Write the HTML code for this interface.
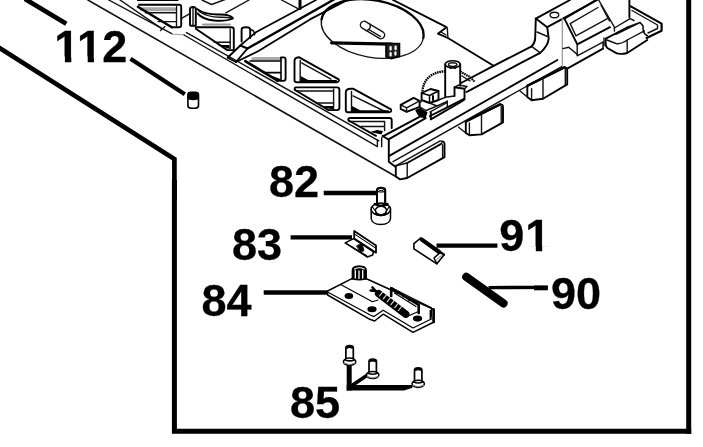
<!DOCTYPE html>
<html><head><meta charset="utf-8">
<style>
html,body{margin:0;padding:0;background:#fff;}
body{width:703px;height:447px;overflow:hidden;position:relative;}
svg{position:absolute;left:0;top:0;display:block;filter:grayscale(1);}
text{font-family:"Liberation Sans",sans-serif;font-weight:bold;font-size:45px;fill:#000;stroke:#000;stroke-width:0.3px;}
.k{stroke:#000;fill:none;stroke-linecap:butt;stroke-linejoin:miter;}
.t{stroke:#111;fill:none;stroke-width:1.4;stroke-linecap:round;stroke-linejoin:round;}
.m{stroke:#000;fill:none;stroke-width:1.9;stroke-linecap:round;stroke-linejoin:round;}
</style></head><body>
<svg width="703" height="447" viewBox="0 0 703 447">
<rect width="703" height="447" fill="#fff"/>
<!-- BORDER -->
<g class="k" stroke-width="4.7">
<path d="M25 -1 L66.3 23.8"/>
<path d="M-2 47 L174.4 159 L174.4 200" stroke-linejoin="miter"/>
<path d="M174.4 180 V431.3 H691.2" stroke-width="5"/>
<path d="M688.7 -2 V433.8" stroke-width="5"/>
</g>
<!-- LEADERS -->
<g class="k" stroke-width="4.3">
<path d="M130.5 58.8 L184.8 94.2"/>
<path d="M323.7 193 L377 193"/>
<path d="M290.6 237.4 L352 237.4"/>
<path d="M263.7 292.5 L328.5 292.5"/>
<path d="M436.5 245.6 L497.4 245.6"/>
<path d="M488.5 287.6 L547.6 287.4" stroke-width="3.4"/>
<path d="M534 287.9 H547.8" stroke-width="4.8"/>
<path d="M349.2 365 V390.5" stroke-width="5"/>
<path d="M346.7 384.9 H412.5 V387.8 L404 390.5 H346.7 Z" fill="#000" stroke="none"/>
<path d="M350.5 386.5 L368.6 374.3" stroke-width="3.6"/>
</g>
<path class="k" d="M466.3 276.8 L503.5 303.3" stroke-width="8.2" style="stroke-linecap:round"/>
<!-- LABELS -->
<g id="labels">
<text x="54.3 77.1 102.2" y="61.7">112</text>
<text x="269" y="196.5">82</text>
<text x="232" y="260">83</text>
<text x="201.5" y="315.7">84</text>
<text x="290" y="418">85</text>
<text x="499.2 525.2" y="251.2">91</text>
<text x="551" y="309">90</text>
<g fill="#fff" stroke="none">
<rect x="56" y="56.6" width="8.9" height="7"/><rect x="71.3" y="56.6" width="16.4" height="7"/><rect x="93.9" y="56.6" width="8.4" height="7"/>
<rect x="527" y="246.1" width="8.8" height="7"/><rect x="542.2" y="246.1" width="8.5" height="7"/>
</g>
</g>
<!-- TRAY -->
<g id="tray" class="t">
<!-- left edge band -->
<path d="M87.9 0 L395.8 176.5" stroke-width="1.6"/>
<path d="M108.7 0 L171.7 33.7"/>
<path d="M120 0 L161.7 28.7 M160.5 30.5 L165 26.5"/>
<path d="M171.7 34.4 L184 34.6" stroke="#aaa"/>
<path d="M184 35 L377.4 146.6 V140"/>
<path d="M186.5 32.6 L378.8 140.8"/>
<!-- pocket 0 -->
<path d="M137.7 0.3 H177.8" stroke-width="1.6" stroke="#000"/>
<path class="m" d="M139 4.7 H179 Q181.2 4.7 181.2 7 V25 Q181.2 27.3 179 27.3 H171.8"/>
<path d="M141.5 9.4 H174.4" stroke="#a8a8a8" stroke-width="3.6" stroke-dasharray="1.2 0.5"/>
<path d="M145.4 12.8 H176"/>
<path d="M176.5 6.4 V26.5"/>
<path d="M137.9 6.8 L171.8 27.3" stroke-width="2.5" stroke="#000"/>
<path d="M158 21.6 H176"/>
<path d="M181.2 18.6 L189.8 13.6"/>
<!-- pocket 1a : post + banana -->
<path class="m" d="M190 25 V9 Q190 7 193 7 Q195.8 7 195.8 9 V25.8 H190.5"/>
<path d="M193 8 V25"/>
<path class="m" d="M197 9 Q205 15 220 14.5 Q231 14.5 233 18.5 Q226 21.5 214 20.5 Q203 19.5 197.5 13.5"/>
<path d="M199 11.5 Q208 17.5 221 17.2 Q229 17.2 232 18.6"/>
<path d="M203 24.5 H230" stroke="#999" stroke-width="2"/>
<!-- pocket 1 -->
<path class="m" d="M195.8 27.2 H231.5 Q233.8 27.2 233.8 29.5 V49.5"/>
<path d="M230.2 29 V48.5"/>
<path class="m" d="M195.8 28.7 L227.3 50.1 H233.5"/>
<path d="M214.4 42.3 H230.2"/>
<path d="M218 45 L229.5 49 V45 Z" fill="#000" stroke="none"/>
<!-- interior lines top -->
<path d="M202 0 L211.5 4.5 L225 -0.5"/>
<path d="M225.8 12.8 L250 -0.5"/>
<!-- small post -->
<path class="m" d="M241.6 41.5 V29.5 Q241.6 27.2 246 27.2 Q250.2 27.2 250.2 29.5 V38"/>
<path d="M250.2 29.5 Q254.8 30 254.5 35"/>
<!-- rib -->
<path class="m" d="M227.5 57.7 L240.3 45.5 L247.5 48.5 L236 62 Z" fill="#fff"/>
<path d="M240.3 45.5 L256.3 32 L316 0" stroke-width="1.7" stroke="#000"/>
<path d="M247.5 48.5 L334 -0.5" stroke-width="2.4" stroke="#000"/>
<path d="M236 62 L258.5 51 L310 19.4 L346 0.6" stroke-width="1.8" stroke="#000"/>
<path d="M300 0 V8.6" stroke-width="3" stroke="#000"/>
<path d="M281.5 0 L298 8.6"/>
<!-- ellipse -->
<path d="M321.5 19.5 A51.6 28.5 10.3 0 1 423.3 38" stroke-width="2.3" stroke="#000"/>
<path d="M423.3 38 A51.6 28.5 10.3 0 1 321.5 19.5" stroke-width="1.3"/>
<g transform="translate(372.5 30) rotate(31)">
<rect x="-13.5" y="-3.7" width="27" height="7.4" rx="3.7" ry="3.7"/>
<path d="M-5 -3.7 Q-1.5 0 -5 3.7 M-3 1.5 H10"/>
</g>
<path d="M331.6 42.8 L392 44.2" stroke-width="3.2" stroke="#000"/>
<path d="M386 43.5 H399.5 V56.5 L391 58.6 L386 57 Z" stroke-width="1.6" stroke="#000" fill="#222"/>
<path d="M390.6 47 V49.6 M395.6 46.6 V49.2 M390.6 53 V55.4 M395.4 52.4 V54.6" stroke-width="2.2" stroke="#fff"/>
<!-- upper-right line & notch -->
<path class="m" d="M393 0 L446.5 27.2 L437.9 33.7 L447.9 38 L493.6 65.8"/>
<path d="M447.3 28 L447.9 38 M441 32 L446 35"/>
<!-- pocket 3 (TR right angle) -->
<path d="M252.8 58.8 H281" stroke="#a8a8a8" stroke-width="3" stroke-dasharray="1.2 0.5"/>
<path d="M250 61.1 H280.5" stroke-width="1.5" stroke="#000"/>
<path class="m" d="M281 57.4 H283.4 Q285.6 57.4 285.6 59.6 V78.6 Q285.6 80.9 283.4 80.9 H277.5"/>
<path d="M281 57.7 V80.5" stroke-width="1.6" stroke="#000"/>
<path d="M245.3 61.1 L277.5 80.7" stroke-width="2.6" stroke="#000"/>
<path d="M264.7 72.6 H280.5" stroke-width="1.6" stroke="#000"/>
<path d="M265.5 73.5 L278 80.7 H280.5 V79 Z" fill="#000" stroke="none"/>
<!-- pocket 4 (BL right angle) -->
<path class="m" d="M294.5 80 V61 Q294.5 57.5 298.8 57.2 L338.7 79.3 Q339.5 82.2 336.5 82.2 H296.5 Q294.5 82.2 294.5 80 Z"/>
<path d="M300.2 60.5 V81"/>
<path d="M301.6 62.9 L331 79.2"/>
<path d="M300.5 76 L311 81.5 H300.5 Z" fill="#000" stroke="none"/>
<path d="M301 81 H336" stroke-width="2" stroke="#000"/>
<!-- pocket 5 (TR) -->
<path class="m" d="M295 90 Q293.6 87.6 296.5 87.4 H337 Q339.4 87.4 339.4 89.8 V107.8 Q339.4 110.1 337 110.1 H328.6"/>
<path d="M297 91 H333.5" />
<path d="M333.6 89 V109.5"/>
<path class="m" d="M295 90 L328.6 110.1"/>
<path d="M316 103 H333.6"/>
<path d="M320 106 L333 109.8 V106 Z" fill="#000" stroke="none"/>
<!-- pocket 6 (BL) -->
<path class="m" d="M345.8 110 V92.5 Q345.8 88.7 350.5 88.7 L353 88.7 L391 109.4 Q392 112.3 389 112.3 H348 Q345.8 112.3 345.8 110 Z"/>
<path d="M351.5 91.5 V111.5"/>
<path d="M353 95.8 L386 112"/>
<path d="M352 106 L363 111.8 H352 Z" fill="#000" stroke="none"/>
<path d="M352 111.2 H388" stroke-width="2" stroke="#000"/>
<!-- pocket 7 (TR, cut by corner) -->
<path class="m" d="M348.7 120.5 Q347.4 118.2 350 118 H389.5 Q391.7 118 391.7 120 V128"/>
<path d="M349 121.5 H384.6 M384.6 121.5 V130.5"/>
<path class="m" d="M348.7 120.5 L376 135.8"/>
<path d="M370 132 L381.5 134.6 L383 131 L377 130 Z" fill="#000" stroke="none"/>
<path d="M361 126.5 H384"/>
<!-- corner -->
<path class="m" d="M382.6 136 L388.8 139.8 V161.7 L395 166.5"/>
<path d="M381.7 137.7 V146.7"/>
<!-- line A + blocks -->
<path class="m" d="M382.8 136.4 L419 117.2"/>
<path class="m" d="M400.7 104.9 L413.6 97.9 L419.6 100.9 V106.9 L406.6 111.8 L400.7 108.8 Z"/>
<path d="M400.7 104.9 L406.6 107.8 L419.6 100.9 M406.6 107.8 V111.8"/>
<path d="M416 110.5 L420 108.6 L426.8 112.5 L425 117.6 L419.5 116.5 Z" fill="#000" stroke="#000"/>
<path class="m" d="M421.6 93 L430.5 89 L438.5 91 V100 L429.5 103 L421.6 100 Z"/>
<path d="M421.6 93 L429.5 95.5 L438.5 91 M429.5 95.5 V103" stroke-width="1.5" stroke="#000"/>
<path d="M433 96 V100" stroke-width="2" stroke="#000"/>
<!-- arc -->
<path d="M422.4 91.5 Q423.5 80.5 431 75.5 Q438 71.2 445.2 71.5" stroke-width="2.3" stroke-dasharray="1.6 0.7" stroke-linecap="butt" stroke="#000"/>
<path d="M460.2 71.5 L470.2 77.2 L474.5 81.5" stroke-width="2.3" stroke-dasharray="1.6 0.7" stroke-linecap="butt" stroke="#000"/>
<path d="M462 76 L470 81"/>
<!-- post -->
<path class="m" d="M445.2 64.3 V97.3 M460.2 64.3 V85.8"/>
<ellipse cx="452.7" cy="64.3" rx="7.5" ry="3.6" stroke-width="1.6" stroke="#000"/>
<ellipse cx="452.7" cy="64.6" rx="4.2" ry="1.9"/>
<path d="M450 66 L455.5 68.5 M455.5 66 L450 68.5" stroke-width="1.3"/>
<!-- bracket -->
<path class="m" d="M454.5 96 V87.2 L464.5 88.7 V98.7 L447.3 107.3 L430 116"/>
<path d="M454.5 87.2 L459 85 L467 86.5 L464.5 88.7"/>
<path d="M438.5 100 L445.2 97.3 L454.5 96"/>
<path d="M419.6 103 L422 100.5 M429.5 103 L437 106 L447.3 101.5 M419.6 106.9 L426 110.5 L437 106"/>
<path d="M447.3 107.3 V101"/>
<!-- front rail -->
<path class="m" d="M461 83 L493.6 65.8 L531.6 46.4"/>
<path class="m" d="M466.5 92 L469.7 90.3 L520 63.4 L540.2 52.9"/>
<path class="m" d="M388.6 139.4 L425.7 118.1 M430.8 112.4 V119.4 L460 102.5 L464.5 99.5"/>
<path d="M430.2 111.8 L447.3 102.5"/>
<path class="m" d="M389.3 155.8 L557.4 60"/>
<path d="M393 161.6 L561.7 66.5"/>
<!-- foot 1 -->
<path d="M395.8 165.9 L440.2 140.8"/>
<path class="m" d="M407.2 163 L441.6 143.6"/>
<path class="m" d="M395.8 165.8 V176.5 L400 179.4 L407.2 178 L444.5 157.2 V144 Q444.3 141 441.6 141.5"/>
<path d="M407.2 163 V178 M442.6 145 V158"/>
<path d="M395.8 165.8 L407.2 163" />
<!-- foot 2 -->
<path class="m" d="M465.8 121.5 L500.2 104.4 Q503 104.2 503 107 V122.3 L481.5 134.4 L469.4 135.2 L465.8 133 Z"/>
<path d="M469.4 123 V135.2 M481.5 115 V134.4 M501.2 106 V123"/>
<path d="M466 121.4 L500 104.4" stroke-width="2.6" stroke="#000"/>
<path d="M458.6 127.3 L465.8 133"/>
<!-- foot 3 -->
<path class="m" d="M527.3 85.8 L564.6 67.2 Q567.2 67.5 567.2 70 V84.4 L543 98.7 L531.6 100.2 L527.3 97 Z"/>
<path d="M531.6 88.7 V100 M543 79.5 V98.7 M565.3 69 V85"/>
<path d="M527.6 85.6 L564.4 67.3" stroke-width="2.6" stroke="#000"/>
<path d="M520 91 L527.3 97"/>
<!-- rail curve up + box -->
<path class="m" d="M531.6 46.4 Q535 43 535.2 38 L535.8 18.6 L570 0"/>
<path class="m" d="M535.8 18.6 L547.2 27.2 L587 5.7 L598 -0.5"/>
<path class="m" d="M547.2 27.2 L548.7 38.7 Q548 46 540.2 52.9"/>
<path d="M531.6 46.4 L540.2 52.9 M537 32 L547.5 36.5"/>
<ellipse cx="554.4" cy="15" rx="4.3" ry="2.7"/>
<path d="M562.3 18.6 V65.8" stroke="#999" stroke-dasharray="1 1"/>
<!-- recess -->
<path class="m" d="M596 0 L564.4 18.6 L577.3 44.4 L610 27.2"/>
<path d="M570.2 23.6 L598 7.5 M575.9 35.8 L607.4 18.6 M570.2 23.6 L575.9 35.8"/>
<path d="M577.2 44.3 V55.8 L603 42.2"/>
<path d="M563 48.6 L568.7 47.2 L577.2 54.4"/>
<path class="m" d="M567.2 68.7 L603 48.6"/>
<path d="M603 42 V49"/>
<!-- recess right side -->
<path d="M598.6 0 L614.4 27.2 V31 M601 5 L609.5 21"/>
<path class="m" d="M629.4 0 V17.2"/>
<path d="M614.4 28 L630 18.6 L634 20.5 M615.8 34.4 L640 22.5 M627.2 27.2 L640 22.5"/>
<!-- foot 4 -->
<path class="m" d="M605.8 38.7 L627.2 27.5 M605.8 38.7 Q605 46 607.3 48 L616.8 53.4 Q621 54.5 627.2 53 L647.3 40"/>
<path d="M627.2 40 V53 M627.2 40 L644.4 30.8 M607 40 L616 43.5 Q621 44.5 627.2 40"/>
<path d="M604 38 V46" />
<!-- tab -->
<path d="M630.8 6.4 L661.6 23.6 V30.8 L646.6 38" stroke-width="2.2" stroke="#000" stroke-linejoin="round"/>
<path d="M632 10.5 L657.5 25 L657.5 28.5 L648 33"/>
<path d="M640 22.5 L643 25.8 Q642.5 33.5 647.3 35.8" stroke-width="1.5" stroke="#000"/>
</g>
<!-- PARTS -->
<g id="parts" class="t">
<!-- part 112 -->
<g stroke="#000" stroke-width="1.6">
<rect x="187.9" y="92.4" width="10.6" height="15.8" rx="3.2" ry="2.6" fill="#fff"/>
<path d="M188.8 93.6 Q193.2 91.8 197.6 93.6 V98.8 Q193.2 100.2 188.8 98.8 Z" fill="#000"/>
</g>
<!-- part 82 screw -->
<g stroke="#000" stroke-width="1.8">
<path d="M377 204 V189.5 Q377 187.6 381 187.6 Q385.2 187.6 385.2 189.5 V204" fill="#fff"/>
<ellipse cx="381.1" cy="189.6" rx="2.6" ry="1.1" stroke-width="1"/>
<path d="M377 191.2 Q381 192.8 385.2 191.2" stroke-width="1.2"/>
<path d="M371.2 209.3 V218.5 Q372 224.4 380.8 224.6 Q389.8 224.4 390.5 218.5 V209.3" stroke-width="1.5" fill="#fff"/>
<ellipse cx="380.8" cy="209.3" rx="9.7" ry="6.2" stroke-width="1.5" fill="#fff"/>
<ellipse cx="381" cy="210.6" rx="5.6" ry="4.2" stroke-width="1.3"/>
<path d="M375 204 Q381 207.5 387.4 204" stroke-width="2.6"/>
<path d="M375.5 213.8 Q381 216.5 386.5 213.8" stroke-width="2.2"/>
<path d="M372.5 207 L376.5 212.5 M389 207 L385.5 212.5" stroke-width="1.2"/>
<path d="M377 190 V204 M385.2 190 V204" stroke-width="1.9"/>
</g>
<!-- part 83 clip -->
<g stroke="#000" stroke-width="1.6">
<path d="M345.2 242.9 L353.6 238.6 L373.6 251.9 L372.6 255 L367.4 257 Z" fill="#fff"/>
<path d="M354.2 231 L376 245.5 V252.7 L354.2 238.6 Z" fill="#fff" stroke-width="1.8"/>
<path d="M355.4 234.6 L374.6 247.4" stroke-width="1.1"/>
<path d="M356.8 245.8 L361.8 243 L364 250.6 L360.6 252.4 Z" fill="#000" stroke-width="0.8"/>
<path d="M347.5 244.2 L366.8 255.6" stroke-width="1"/>
</g>
<!-- part 91 -->
<g stroke="#000" stroke-width="1.6">
<path d="M413.9 243.6 L420.9 237.9 L444.3 254.5 L436.9 263.8 L413.9 248.9 Z" fill="#fff"/>
<path d="M421.8 239.6 L438.8 251.8" stroke-width="4.2"/>
<path d="M434 258 L440 252.7 L444.3 255 M434 258 L436.9 263.8" stroke-width="1.5"/>
<path d="M436.6 259.5 L441.4 255.4" stroke-width="1" stroke="#777"/>
</g>
<!-- part 84 plate -->
<g stroke="#000" stroke-width="1.5">
<path d="M327.6 291 L351.4 278.8 L367 279 L434 309.5 V322 L413 332.3 L383.3 314.2 L374.6 321 L369.8 319.3 L327.6 295 Z" fill="#fff"/>
<path d="M328 292.2 L369.8 314.8 L374 316.6 L383.2 310.2 L413 328 L433.8 317.8" stroke-width="1.2"/>
<path d="M341.1 284.7 L372.4 301.8 L378 300" stroke-width="1.2"/>
<path d="M391 287.6 L431.5 307.8 L431.5 317" stroke-width="1.1"/>
<path d="M433.6 309.5 V322" stroke-width="2.6"/>
<path d="M430.4 310.5 V318.5" stroke-width="1.6"/>
<!-- knob -->
<path d="M352.4 278.6 V270 Q352.6 266.2 359.3 266 Q366 266.2 366.2 270 V278.6 Q359.3 281 352.4 278.6 Z" fill="#000"/>
<path d="M355.3 270.5 V278 M359 271 V278.4 M362.7 270.5 V278" stroke="#fff" stroke-width="1.3"/>
<path d="M354.5 269 Q359.3 266.6 364.2 269" stroke="#fff" stroke-width="1.1" fill="none"/>
<!-- holes -->
<ellipse cx="348.9" cy="296" rx="3.6" ry="2.2" fill="#000"/>
<ellipse cx="372" cy="309.2" rx="3.9" ry="2.3" fill="#000"/>
<ellipse cx="417.6" cy="318.6" rx="3.9" ry="2.3" fill="#000"/>
<!-- spring -->
<path d="M372.5 287.5 L377 292.5 M370.8 290.5 L376 291" stroke-width="2.6"/>
<path d="M378.6 293.6 L405.8 314.2" stroke-width="7.4" stroke-linecap="round"/>
<path d="M379.5 296 L382.5 292.2 M383.3 298.9 L386.3 295.1 M387.1 301.8 L390.1 298 M390.9 304.7 L393.9 300.9 M394.7 307.6 L397.7 303.8 M398.5 310.5 L401.5 306.7" stroke="#ddd" stroke-width="1.1"/>
<!-- bracket -->
<path d="M391.2 296 V288 L418.7 304.8 V313" stroke-width="2.6" stroke-linejoin="round"/>
<path d="M394.5 293 L416 306.5" stroke-width="1.2"/>
<path d="M396 290.6 L397.2 293.4 M402 294.2 L403.2 297 M408 297.8 L409.2 300.6" stroke-width="1.5"/>
<path d="M408 316 L418.5 311.5" stroke-width="1.3"/>
</g>
<!-- screws 85 -->
<g stroke="#000" stroke-width="1.7">
<g transform="translate(349.6 353.3)">
<path d="M-3.7 6 V-5.2 Q-3.7 -7.6 0 -7.6 Q3.7 -7.6 3.7 -5.2 V6" fill="#fff"/>
<path d="M-2.6 -5.6 Q0 -7 2.6 -5.6" stroke-width="2.2"/>
<ellipse cx="0" cy="8.4" rx="6.2" ry="3.6" fill="#fff" stroke-width="1.5"/>
<path d="M-4.6 6.6 Q0 8.6 4.6 6.6" stroke-width="1.6"/>
<path d="M-5.4 10 Q0 12.8 5.4 10" stroke-width="1" stroke="#888"/>
</g>
<g transform="translate(372.7 366.6)">
<path d="M-3.7 6 V-5.2 Q-3.7 -7.6 0 -7.6 Q3.7 -7.6 3.7 -5.2 V6" fill="#fff"/>
<path d="M-2.6 -5.6 Q0 -7 2.6 -5.6" stroke-width="2.2"/>
<ellipse cx="0" cy="8.4" rx="6.2" ry="3.6" fill="#fff" stroke-width="1.5"/>
<path d="M-4.6 6.6 Q0 8.6 4.6 6.6" stroke-width="1.6"/>
<path d="M-5.4 10 Q0 12.8 5.4 10" stroke-width="1" stroke="#888"/>
</g>
<g transform="translate(418.2 375.4)">
<path d="M-3.7 6 V-5.2 Q-3.7 -7.6 0 -7.6 Q3.7 -7.6 3.7 -5.2 V6" fill="#fff"/>
<path d="M-2.6 -5.6 Q0 -7 2.6 -5.6" stroke-width="2.2"/>
<ellipse cx="0" cy="8.4" rx="6.2" ry="3.6" fill="#fff" stroke-width="1.5"/>
<path d="M-4.6 6.6 Q0 8.6 4.6 6.6" stroke-width="1.6"/>
<path d="M-5.4 10 Q0 12.8 5.4 10" stroke-width="1" stroke="#888"/>
</g>
</g>
</g>
</svg>
</body></html>
